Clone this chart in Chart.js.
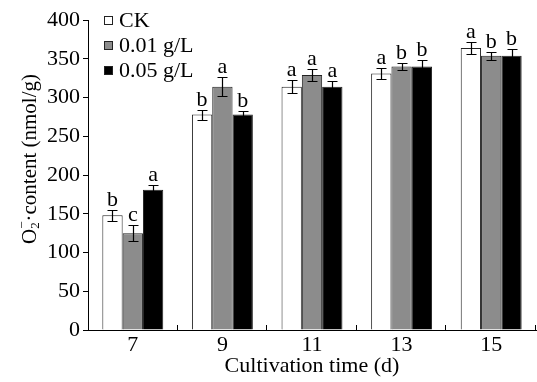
<!DOCTYPE html>
<html>
<head>
<meta charset="utf-8">
<script src="https://cdn.jsdelivr.net/npm/chart.js@4"></script>
<style>
html,body{margin:0;padding:0;background:#fff;}
#wrap{width:537px;height:382px;}
</style>
</head>
<body>
<div id="wrap"><canvas id="c" width="537" height="382"></canvas></div>
<script>
const categories = ['7', '9', '11', '13', '15'];
const seriesNames = ['CK', '0.01 g/L', '0.05 g/L'];
const ckValues = [148, 278, 314, 331, 364];
const ckErrors = [7, 6.5, 8, 7, 7.5];
const ckLetters = ['b', 'b', 'a', 'a', 'a'];
const lowValues = [125, 314, 329, 340, 354];
const lowErrors = [10, 12, 7.5, 4.5, 5];
const lowLetters = ['c', 'a', 'a', 'b', 'b'];
const highValues = [181, 278, 314, 340, 354];
const highErrors = [6, 5, 7, 9, 8];
const highLetters = ['a', 'b', 'a', 'b', 'b'];
const yTicks = [0, 50, 100, 150, 200, 250, 300, 350, 400];

const FONT = "'Liberation Serif', 'Times New Roman', serif";
const FS = 22;
const colors = ['#ffffff', '#8c8c8c', '#000000'];

const errorSets = [ckErrors, lowErrors, highErrors];
const letterSets = [ckLetters, lowLetters, highLetters];

const errorBarPlugin = {
  id: 'errorBars',
  afterDatasetsDraw(chart) {
    const ctx = chart.ctx;
    const y = chart.scales.y;
    ctx.save();
    chart.data.datasets.forEach((ds, di) => {
      const meta = chart.getDatasetMeta(di);
      meta.data.forEach((bar, i) => {
        const v = ds.data[i];
        const e = errorSets[di][i];
        const yt = Math.round(y.getPixelForValue(v + e)) + 0.5;
        const yb = Math.round(y.getPixelForValue(v - e)) + 0.5;
        const x = Math.round(bar.x) + 0.5;
        ctx.strokeStyle = '#000';
        ctx.lineWidth = 1.2;
        ctx.beginPath();
        ctx.moveTo(x, yt); ctx.lineTo(x, yb);
        ctx.moveTo(x - 5, yt); ctx.lineTo(x + 5, yt);
        ctx.moveTo(x - 5, yb); ctx.lineTo(x + 5, yb);
        ctx.stroke();
        ctx.fillStyle = '#000';
        ctx.font = FS + 'px ' + FONT;
        ctx.textAlign = 'center';
        ctx.textBaseline = 'alphabetic';
        ctx.fillText(letterSets[di][i], bar.x, yt - 5);
      });
    });
    ctx.restore();
  }
};

const decorPlugin = {
  id: 'decor',
  afterDraw(chart) {
    const ctx = chart.ctx;
    const xs = chart.scales.x;
    const ca = chart.chartArea;
    ctx.save();
    // inward ticks at category boundaries
    ctx.strokeStyle = '#000';
    ctx.lineWidth = 1;
    const n = categories.length;
    const w = (xs.right - xs.left) / n;
    ctx.beginPath();
    for (let i = 1; i <= n; i++) {
      const x = Math.round(xs.left + i * w) - 0.5;
      ctx.moveTo(x, ca.bottom);
      ctx.lineTo(x, ca.bottom - 5);
    }
    ctx.stroke();

    // legend
    ctx.font = FS + 'px ' + FONT;
    ctx.textBaseline = 'middle';
    ctx.textAlign = 'left';
    seriesNames.forEach((name, i) => {
      const cy = 20 + i * 25;
      ctx.fillStyle = colors[i];
      ctx.fillRect(104, cy - 4, 9, 9);
      ctx.strokeStyle = '#222';
      ctx.strokeRect(104.5, cy - 3.5, 8, 8);
      ctx.fillStyle = '#000';
      ctx.fillText(name, 119, cy + 1);
    });

    // y title with sub/superscript
    ctx.translate(30, 159);
    ctx.rotate(-Math.PI / 2);
    const big = '21px ' + FONT;
    const small = '13px ' + FONT;
    ctx.font = big; const w0 = ctx.measureText('O').width;
    ctx.font = small; const w1 = Math.max(ctx.measureText('2').width, ctx.measureText('\u2212').width);
    ctx.font = big; const w3 = ctx.measureText('\u00b7content (nmol/g)').width;
    const total = w0 + w1 + w3;
    let x = -total / 2;
    ctx.textBaseline = 'middle';
    ctx.fillStyle = '#000';
    ctx.font = big; ctx.fillText('O', x, 0); x += w0;
    ctx.font = small; ctx.fillText('2', x, 6); ctx.fillText('\u2212', x, -7);
    x += w1;
    ctx.font = big; ctx.fillText('\u00b7content (nmol/g)', x, 0);
    ctx.restore();
  }
};

const datasets = [ckValues, lowValues, highValues].map((vals, i) => ({
  label: seriesNames[i],
  data: vals,
  backgroundColor: colors[i],
  borderColor: '#222',
  borderWidth: 1,
  categoryPercentage: 0.68,
  barPercentage: 1.0
}));

new Chart(document.getElementById('c'), {
  type: 'bar',
  data: { labels: categories, datasets },
  options: {
    responsive: false,
    animation: false,
    devicePixelRatio: 1,
    layout: { padding: { left: 0, right: 1, top: 20, bottom: 0 } },
    plugins: { legend: { display: false }, tooltip: { enabled: false } },
    scales: {
      x: {
        grid: { display: false, drawTicks: false, tickLength: 0 },
        border: { color: '#000', width: 1 },
        ticks: { color: '#000', font: { family: FONT, size: FS }, padding: 2 },
        title: { display: true, text: 'Cultivation time (d)', color: '#000',
                 font: { family: FONT, size: FS }, padding: { top: 0, bottom: 3 } },
        afterFit(s) { s.height = 52; }
      },
      y: {
        min: 0, max: 400,
        afterBuildTicks(s) { s.ticks = yTicks.map(v => ({ value: v })); },
        grid: { drawOnChartArea: false, tickLength: 5, color: '#000' },
        border: { color: '#000', width: 1 },
        ticks: { color: '#000', font: { family: FONT, size: FS }, padding: 3 },
        afterFit(s) { s.width = 88; }
      }
    }
  },
  plugins: [errorBarPlugin, decorPlugin]
});
</script>
</body>
</html>
